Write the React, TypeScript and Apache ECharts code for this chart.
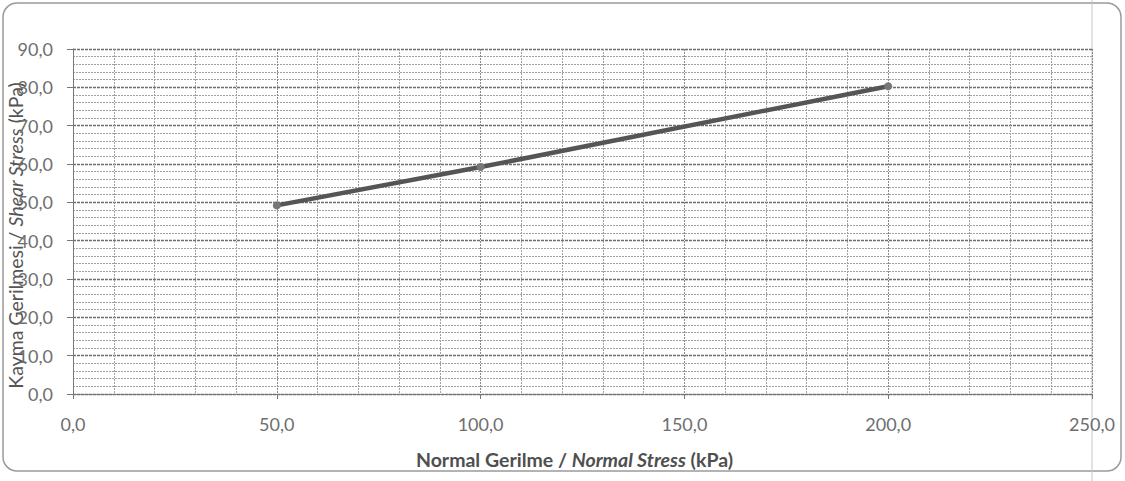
import React, { useEffect, useRef } from "react";
import * as echarts from "echarts";

// Direct shear test results: normal stress vs. peak shear stress (kPa)
const normalStress = [50, 100, 200];
const shearStress = [49.2, 59.2, 80.3];

const xTitle = "Normal Gerilme / {i|Normal Stress} (kPa)";
const yTitle = "Kayma Gerilmesi / {i|Shear Stress} (kPa)";

const fmt = (v: number) => v.toFixed(1).replace(".", ",");

export default function App() {
  const ref = useRef<HTMLDivElement>(null);

  useEffect(() => {
    if (!ref.current) return;
    const chart = echarts.init(ref.current, null, { renderer: "svg" });
    const font = "Lato, 'Open Sans', sans-serif";
    chart.setOption({
      animation: false,
      backgroundColor: "#ffffff",
      textStyle: { fontFamily: font },
      grid: { left: 73, right: 33, top: 49, bottom: 87, outerBoundsMode: "none", containLabel: false },
      xAxis: {
        type: "value",
        min: 0,
        max: 250,
        interval: 50,
        name: xTitle,
        nameLocation: "middle",
        nameGap: 55,
        nameMoveOverlap: false,
        nameTextStyle: {
          color: "#4f4f4f",
          fontSize: 19.5,
          fontWeight: "bold",
          fontFamily: font,
          padding: [0, 16, 0, 0],
          rich: { i: { fontStyle: "italic", fontWeight: "bold", fontSize: 19.5, color: "#4f4f4f", fontFamily: font } },
        },
        axisLine: { show: true, onZero: false, lineStyle: { color: "#777", width: 1 } },
        axisTick: { show: true, length: 5, lineStyle: { color: "#777" } },
        minorTick: { show: false, splitNumber: 5 },
        axisLabel: { formatter: fmt, color: "#6e6e6e", fontSize: 18, margin: 21 },
        splitLine: { show: true, lineStyle: { color: "#8a8a8a", type: [2, 1], width: 1 } },
        minorSplitLine: { show: true, lineStyle: { color: "#a0a0a0", type: [2, 1], width: 1 } },
      },
      yAxis: {
        type: "value",
        min: 0,
        max: 90,
        interval: 10,
        name: yTitle,
        nameLocation: "middle",
        nameRotate: 90,
        nameGap: 48,
        nameMoveOverlap: false,
        nameTextStyle: {
          color: "#555",
          fontSize: 19.5,
          fontFamily: font,
          padding: [0, 28, 0, 0],
          rich: { i: { fontStyle: "italic", fontSize: 19.5, color: "#555", fontFamily: font } },
        },
        axisLine: { show: true, lineStyle: { color: "#777", width: 1 } },
        axisTick: { show: true, length: 6, lineStyle: { color: "#777" } },
        axisLabel: { formatter: fmt, color: "#6e6e6e", fontSize: 18, margin: 20 },
        splitLine: { show: true, lineStyle: { color: "#6e6e6e", type: [3, 1], width: 1.3 } },
        minorSplitLine: { show: true, lineStyle: { color: "#a0a0a0", type: [2, 1], width: 1 } },
        minorTick: { show: false, splitNumber: 5 },
      },
      series: [
        {
          type: "line",
          data: normalStress.map((x, i) => [x, shearStress[i]]),
          lineStyle: { color: "#555", width: 4.5 },
          itemStyle: { color: "#777" },
          symbol: "circle",
          symbolSize: 8,
          z: 5,
        },
      ],
      graphic: [
        {
          type: "rect",
          shape: { x: 3, y: 3, width: 1118, height: 468, r: 14 },
          style: { fill: "none", stroke: "#9a9a9a", lineWidth: 1.5 },
          silent: true,
        },
        {
          type: "line",
          shape: { x1: 1092, y1: 0, x2: 1092, y2: 481 },
          style: { stroke: "#c4c4c4", lineWidth: 1 },
          silent: true,
        },
      ],
    });
    return () => chart.dispose();
  }, []);

  return (
    <div
      ref={ref}
      style={{ position: "fixed", left: 0, top: 0, width: 1125, height: 481, background: "#fff" }}
    />
  );
}
